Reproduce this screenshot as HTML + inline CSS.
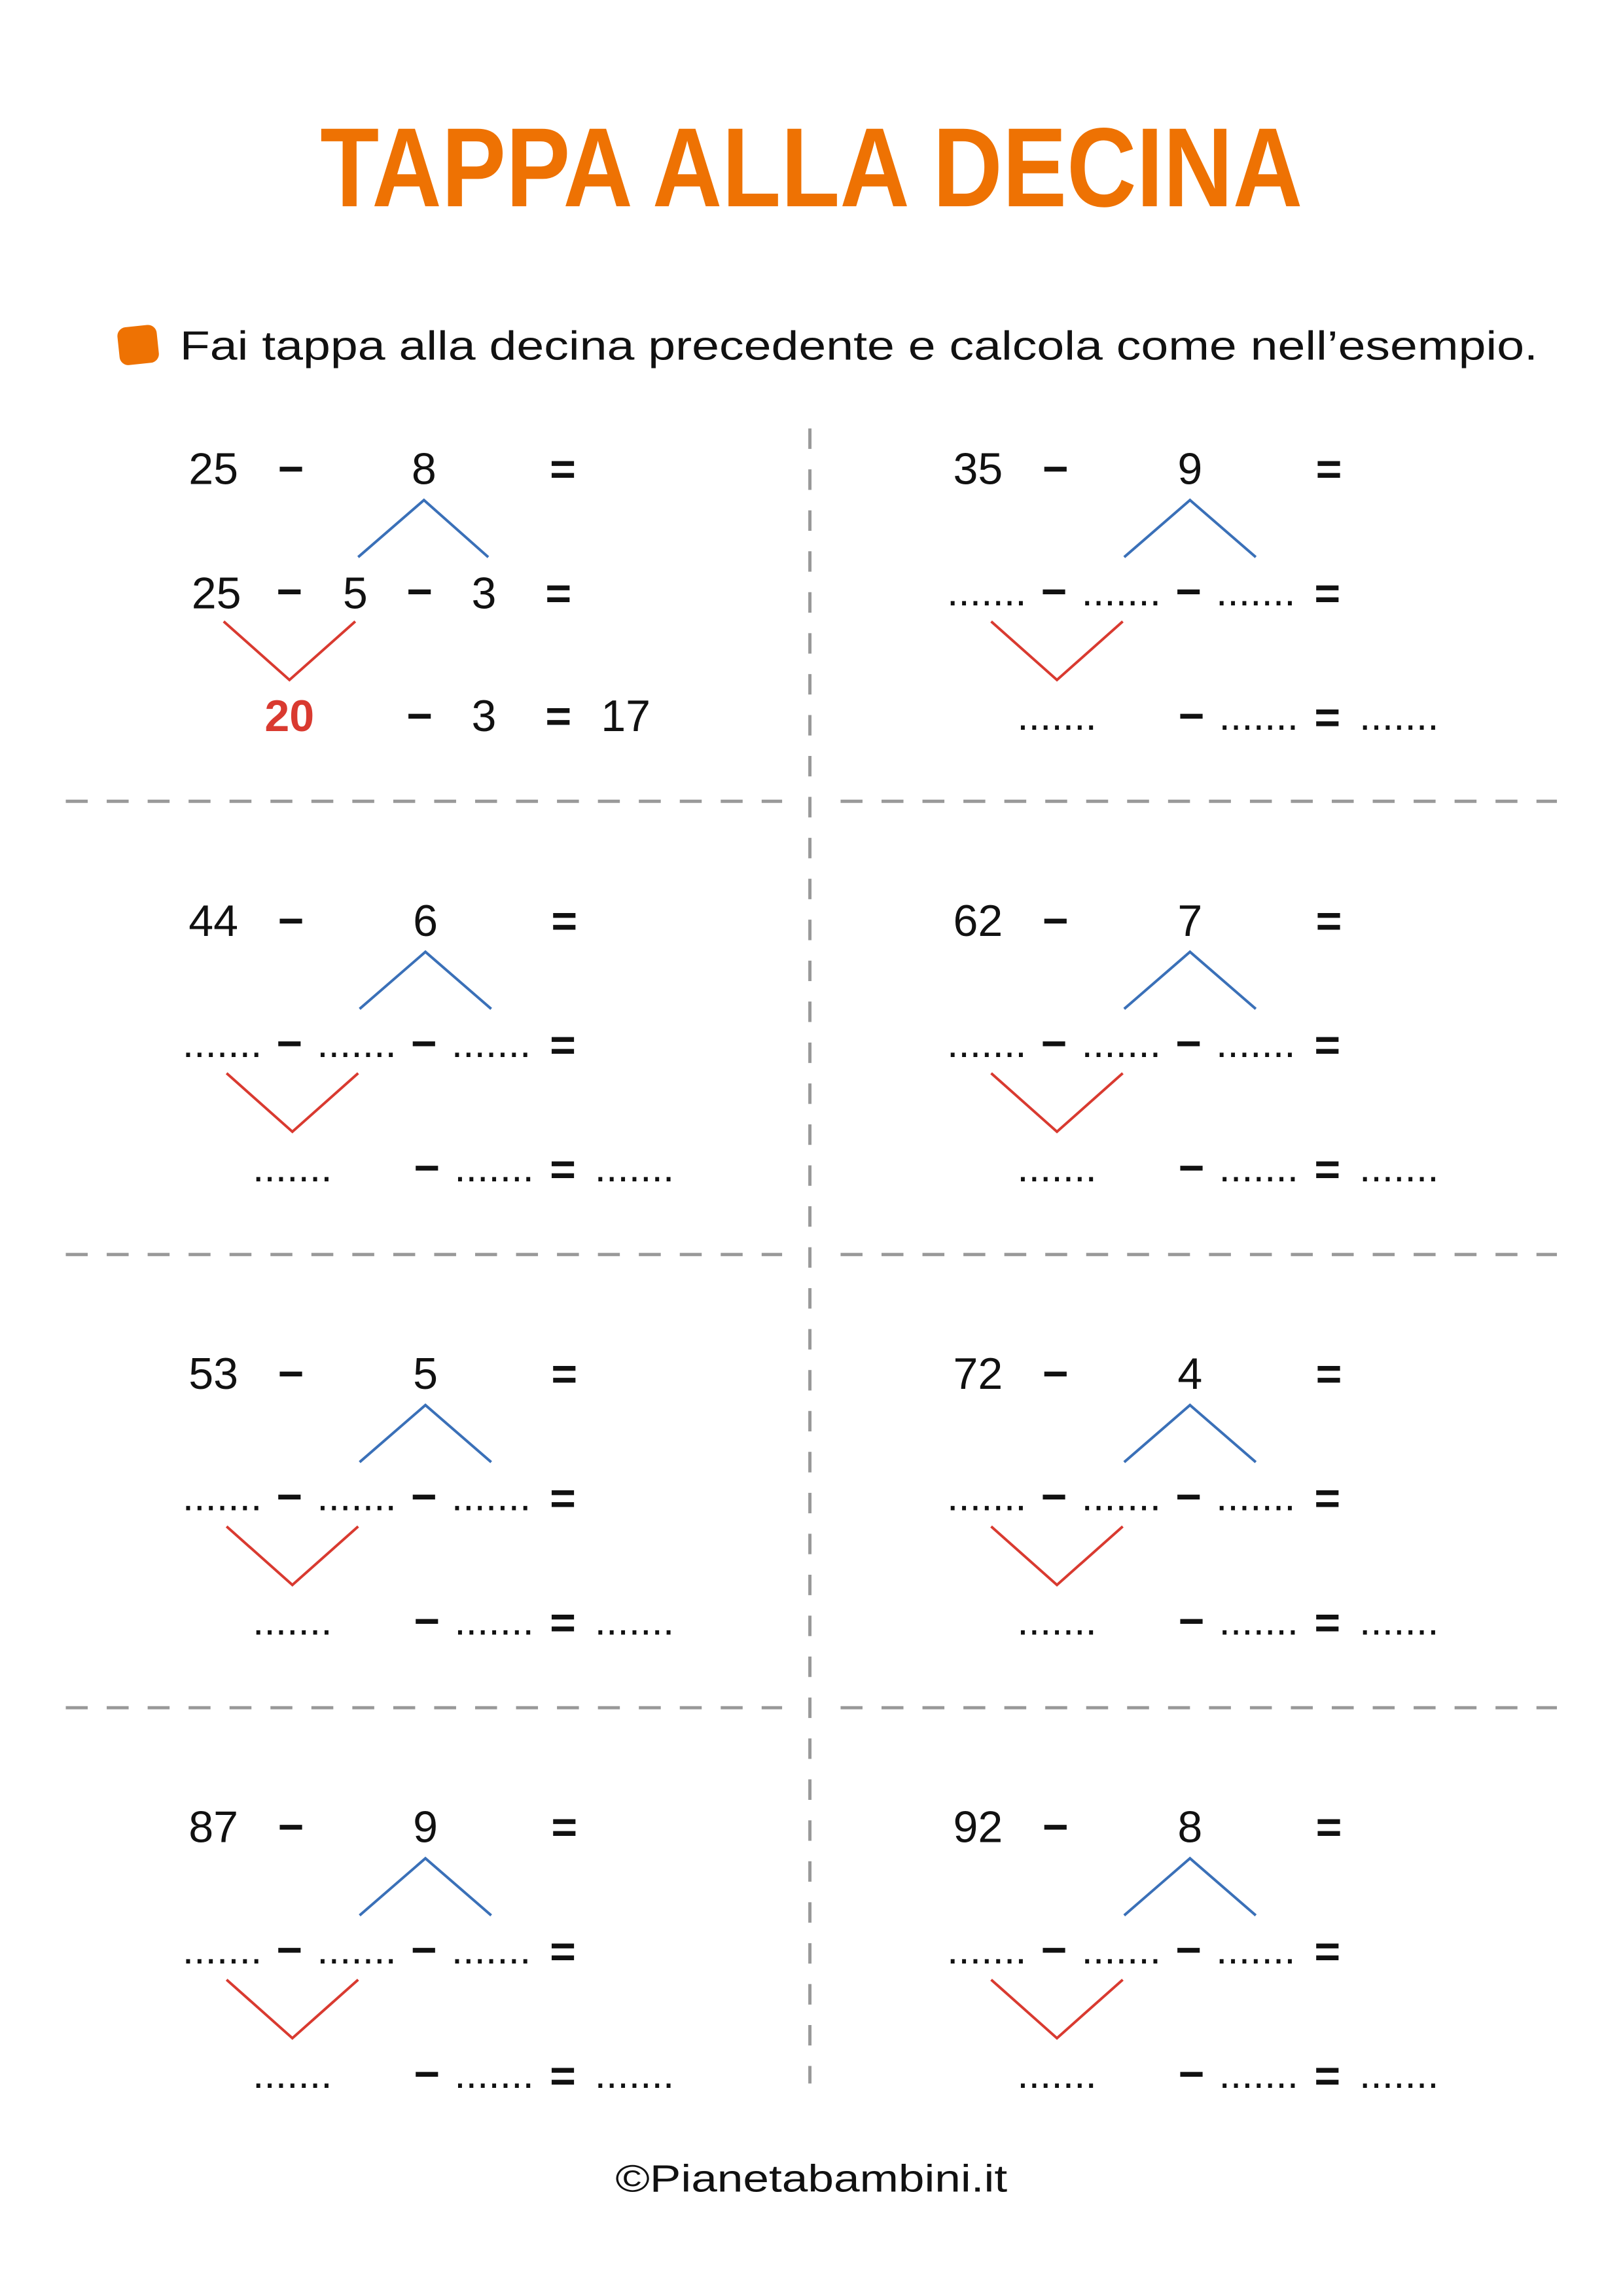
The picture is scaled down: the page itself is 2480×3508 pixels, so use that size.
<!DOCTYPE html>
<html><head><meta charset="utf-8"><style>html,body{margin:0;padding:0;background:#fff}svg{display:block}</style></head>
<body>
<svg width="2480" height="3508" viewBox="0 0 1110.2 1570.3" xmlns="http://www.w3.org/2000/svg" font-family="'Liberation Sans', sans-serif">
<rect width="1110.2" height="1570.3" fill="#fff"/>
<text x="555" y="141" font-size="77" font-weight="bold" fill="#EE7203" text-anchor="middle" textLength="672" lengthAdjust="spacingAndGlyphs">TAPPA ALLA DECINA</text>
<rect x="81" y="223" width="27" height="26" rx="6" fill="#EE7203" transform="rotate(-6 94 236)"/>
<text x="123" y="246" font-size="28" fill="#111" textLength="929" lengthAdjust="spacingAndGlyphs">Fai tappa alla decina precedente e calcola come nell’esempio.</text>
<g stroke="#999" stroke-width="2.2" fill="none">
<line x1="554" y1="293" x2="554" y2="1425" stroke-dasharray="14 14"/>
<line x1="45" y1="548" x2="535" y2="548" stroke-dasharray="15 13"/>
<line x1="575" y1="548" x2="1065" y2="548" stroke-dasharray="15 13"/>
<line x1="45" y1="858" x2="535" y2="858" stroke-dasharray="15 13"/>
<line x1="575" y1="858" x2="1065" y2="858" stroke-dasharray="15 13"/>
<line x1="45" y1="1168" x2="535" y2="1168" stroke-dasharray="15 13"/>
<line x1="575" y1="1168" x2="1065" y2="1168" stroke-dasharray="15 13"/>
</g>
<defs>
<g id="blank">
<polyline points="246,381 291,342 336,381" fill="none" stroke="#3A70B8" stroke-width="1.8"/>
<polyline points="155,425 200,465 245,425" fill="none" stroke="#D93A30" stroke-width="1.8"/>
<g font-size="30.5" fill="#111" text-anchor="middle" font-weight="bold">
<text x="199" y="331">−</text><text x="386" y="331">=</text>
<text x="198" y="415">−</text><text x="290" y="415">−</text><text x="385" y="416">=</text>
<text x="292" y="500">−</text><text x="385" y="501">=</text>
</g>
<g font-size="28" fill="#111" text-anchor="middle">
<text x="152" y="414">.......</text><text x="244" y="414">.......</text><text x="336" y="414">.......</text>
<text x="200" y="499">.......</text><text x="338" y="499">.......</text><text x="434" y="499">.......</text>
</g>
</g>
</defs>
<g font-size="30.5" fill="#111" text-anchor="middle">
<polyline points="245,381 290,342 334,381" fill="none" stroke="#3A70B8" stroke-width="1.8"/>
<polyline points="153,425 198,465 243,425" fill="none" stroke="#D93A30" stroke-width="1.8"/>
<text x="146" y="331">25</text><text x="199" y="331" font-weight="bold">−</text><text x="290" y="331">8</text><text x="385" y="331" font-weight="bold">=</text>
<text x="148" y="416">25</text><text x="198" y="415" font-weight="bold">−</text><text x="243" y="416">5</text><text x="287" y="415" font-weight="bold">−</text><text x="331" y="416">3</text><text x="382" y="416" font-weight="bold">=</text>
<text x="198" y="500" fill="#D93A30" font-weight="bold">20</text><text x="287" y="500" font-weight="bold">−</text><text x="331" y="500">3</text><text x="382" y="500" font-weight="bold">=</text><text x="428" y="500">17</text>
</g>
<g transform="translate(523,0)"><use href="#blank"/><g font-size="30.5" fill="#111" text-anchor="middle"><text x="146" y="331">35</text><text x="291" y="331">9</text></g></g>
<g transform="translate(0,309)"><use href="#blank"/><g font-size="30.5" fill="#111" text-anchor="middle"><text x="146" y="331">44</text><text x="291" y="331">6</text></g></g>
<g transform="translate(523,309)"><use href="#blank"/><g font-size="30.5" fill="#111" text-anchor="middle"><text x="146" y="331">62</text><text x="291" y="331">7</text></g></g>
<g transform="translate(0,619)"><use href="#blank"/><g font-size="30.5" fill="#111" text-anchor="middle"><text x="146" y="331">53</text><text x="291" y="331">5</text></g></g>
<g transform="translate(523,619)"><use href="#blank"/><g font-size="30.5" fill="#111" text-anchor="middle"><text x="146" y="331">72</text><text x="291" y="331">4</text></g></g>
<g transform="translate(0,929)"><use href="#blank"/><g font-size="30.5" fill="#111" text-anchor="middle"><text x="146" y="331">87</text><text x="291" y="331">9</text></g></g>
<g transform="translate(523,929)"><use href="#blank"/><g font-size="30.5" fill="#111" text-anchor="middle"><text x="146" y="331">92</text><text x="291" y="331">8</text></g></g>
<text x="555" y="1499" font-size="26" fill="#111" text-anchor="middle" textLength="268" lengthAdjust="spacingAndGlyphs">©Pianetabambini.it</text>
</svg>
</body></html>
